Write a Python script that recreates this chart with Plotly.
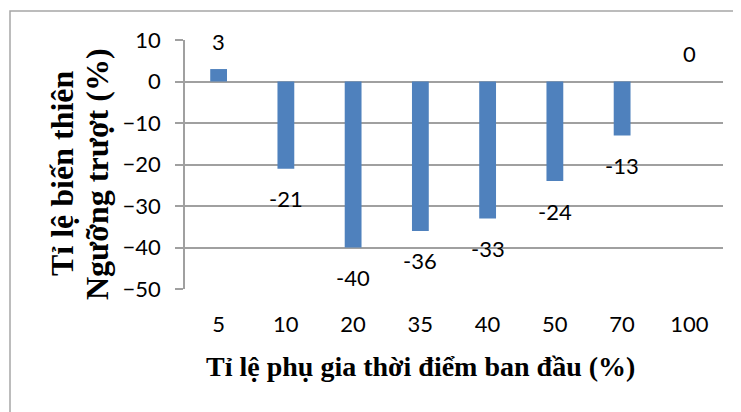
import plotly.graph_objects as go

categories = ["5", "10", "20", "35", "40", "50", "70", "100"]
values = [3, -21, -40, -36, -33, -24, -13, 0]
y_ticks = [10, 0, -10, -20, -30, -40, -50]
y_title_lines = ["Tỉ lệ biến thiên", "Ngưỡng trượt (%)"]
x_title = "Tỉ lệ phụ gia thời điểm ban đầu (%)"

# page has an 8px body margin; compensate
O = 8
W, H = 741 - O, 412 - O
L, T = 185 - O, 40 - O
R = W - (723 - O)
B = H - (289 - O)
pw = W - L - R
ph = H - T - B

def px_x(x):
    return (x - O - L) / pw

def px_y(y):
    return ((H - B) - (y - O)) / ph

fig = go.Figure()
fig.add_trace(go.Bar(
    x=categories, y=values,
    marker=dict(color="#4f81bd", line=dict(width=0)),
    width=0.25,
    hoverinfo="skip",
))

for i, v in enumerate(values):
    fig.add_annotation(
        x=i, y=v, xref="x", yref="y", text=str(v), showarrow=False,
        yshift=28 if v >= 0 else -30, yanchor="middle", xanchor="center",
        font=dict(family="Lato", size=22, color="black"),
    )

for line, cx, cy in zip(y_title_lines, [62, 97], [173, 174]):
    fig.add_annotation(
        x=px_x(cx), y=px_y(cy), xref="paper", yref="paper",
        text=f"<b>{line}</b>", showarrow=False,
        textangle=-90, xanchor="center", yanchor="middle",
        font=dict(family="Liberation Serif", size=32, color="black"),
    )
fig.add_annotation(
    x=px_x(420), y=px_y(366), xref="paper", yref="paper",
    text=f"<b>{x_title}</b>", showarrow=False,
    xanchor="center", yanchor="middle",
    font=dict(family="Liberation Serif", size=28, color="black"),
)

fig.add_shape(
    type="rect", xref="paper", yref="paper",
    x0=px_x(10), x1=1.3, y0=-1.0, y1=px_y(11),
    line=dict(color="#a6a6a6", width=1.5), fillcolor="rgba(0,0,0,0)", layer="below",
)

fig.update_layout(
    width=W, height=H,
    margin=dict(l=L, r=R, t=T, b=B),
    plot_bgcolor="white", paper_bgcolor="white",
    showlegend=False,
)
fig.update_xaxes(
    type="category", range=[-0.5, len(categories) - 0.5],
    showgrid=False, zeroline=False, showline=False,
    ticks="", tickfont=dict(family="Lato", size=22, color="black"),
    ticklabelstandoff=20,
)
fig.update_yaxes(
    range=[-50, 10], tickvals=y_ticks, showgrid=True, gridcolor="#a0a0a0", gridwidth=1.5,
    zeroline=True, zerolinecolor="#a0a0a0", zerolinewidth=1.5,
    showline=True, linecolor="#a0a0a0", linewidth=1.5,
    ticks="outside", ticklen=8, tickcolor="#a0a0a0", tickwidth=1.5,
    tickfont=dict(family="Lato", size=22, color="black"),
    ticklabelstandoff=10,
)

fig.write_html("out.html")
